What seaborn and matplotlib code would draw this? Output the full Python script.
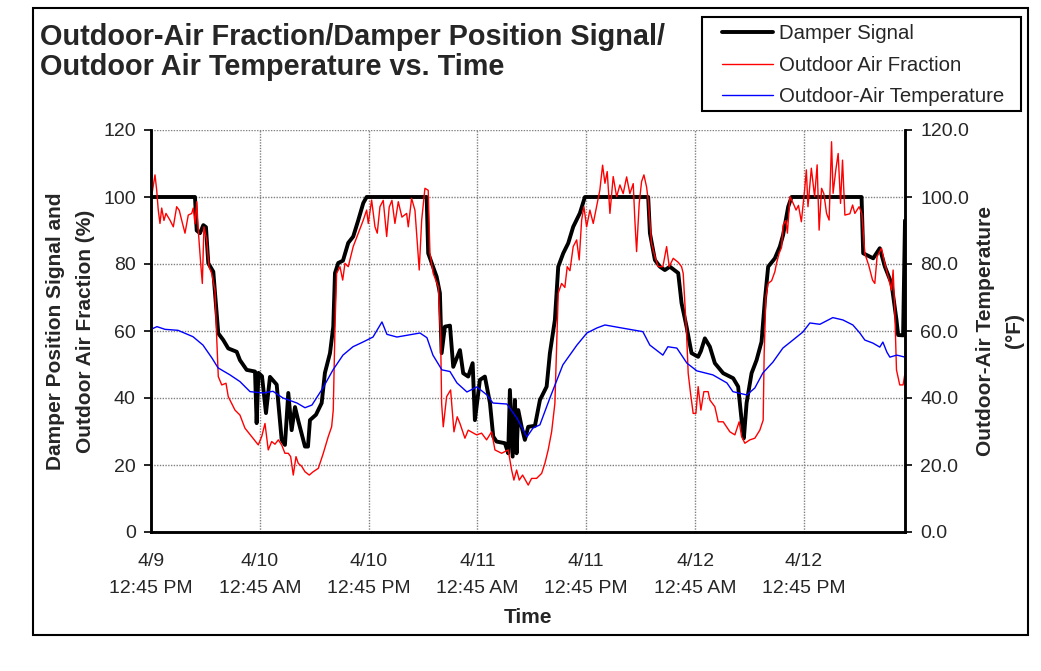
import matplotlib
matplotlib.use("Agg")
import matplotlib.pyplot as plt
from matplotlib.patches import Rectangle
import seaborn as sns

# ---- data (hours elapsed since 4/9 12:45 PM) ----
damper_hours = [0, 4.85, 5.04, 5.40, 5.77, 6.06, 6.32, 6.87, 7.06, 7.42, 7.97, 8.52, 9.45, 9.81,
                10.55, 11.47, 11.65, 11.85, 12.24, 12.68, 13.12, 13.86, 14.41, 14.77, 15.14, 15.51,
                15.88, 16.26, 16.98, 17.31, 17.53, 18.19, 18.82, 19.18, 19.74, 20.10, 20.29, 20.65,
                21.17, 21.75, 22.30, 22.86, 23.41, 23.78, 30.40, 30.57, 31.50, 31.86, 32.05, 32.41,
                32.97, 33.33, 34.07, 34.43, 34.98, 35.47, 35.72, 36.27, 36.82, 37.38, 37.74, 38.11,
                39.03, 39.39, 39.58, 39.88, 40.13, 40.32, 40.50, 40.87, 41.23, 41.60, 42.34, 42.89,
                43.63, 43.99, 44.54, 44.91, 45.46, 46.01, 46.56, 47.30, 47.85, 54.83, 55.02, 55.57,
                56.12, 56.67, 57.22, 58.14, 58.51, 59.06, 59.61, 60.34, 60.64, 61.08, 61.63, 62.18,
                63.10, 64.20, 64.75, 65.13, 65.38, 65.68, 66.23, 66.78, 67.33, 67.70, 68.06, 68.80,
                69.35, 69.71, 70.27, 70.64, 78.36, 78.54, 79.64, 80.37, 80.93, 81.66, 82.21, 82.39,
                82.94, 83.15]
damper_signal = [100, 100, 90, 89.2, 91.6, 91, 80.2, 77.7, 71.3, 59.3, 57.3, 54.8, 53.8, 51.3,
                 48.4, 47.9, 32.5, 47.5, 46.5, 35.5, 46.3, 44, 27.5, 26, 41.5, 30.4,
                 37.3, 33, 25.5, 25.5, 33.4, 35, 38.5, 47.5, 53.4, 61.3, 77.3, 80.3,
                 81, 86.3, 88.2, 93.1, 98.2, 100, 100, 83.2, 76.2, 71.3, 53.4, 61.3,
                 61.6, 49.3, 54.3, 47.4, 46.4, 50.4, 33.4, 45.4, 46.4, 38.5, 28.5, 27,
                 26.5, 23.5, 42.4, 22.5, 39.4, 23.5, 36.4, 31.4, 27.5, 31.4, 31.7, 39.4,
                 43.4, 53.4, 63.3, 79.2, 83.2, 86.2, 91.1, 95.2, 100, 100, 89.2, 81.2,
                 79.2, 78.2, 79.2, 77.3, 68.3, 61.3, 53.4, 52.3, 54, 57.8, 55.3, 50.4,
                 47.4, 45.9, 43.4, 33.4, 28, 38.5, 47.4, 51.3, 56.8, 69.3, 79.2, 81.7,
                 85.2, 88.7, 97.1, 100, 100, 83.2, 81.7, 84.7, 79.2, 74.2, 63.3, 58.8,
                 58.7, 93]

oaf_hours = [0, 0.44, 0.63, 0.80, 0.99, 1.18, 1.43, 1.65, 2.09, 2.46, 2.83, 3.12, 3.38, 3.75, 4.11,
             4.49, 4.66, 4.85, 5.04, 5.21, 5.48, 5.66, 5.84, 6.14, 6.39, 6.69, 7.06, 7.24, 7.42,
             7.80, 8.27, 8.52, 9.26, 9.81, 10.36, 11.10, 11.83, 12.21, 12.57, 12.93, 13.31, 13.67,
             14.04, 14.41, 14.77, 15.14, 15.40, 15.69, 15.99, 16.24, 16.62, 16.98, 17.45, 17.89,
             18.45, 19.00, 19.55, 19.92, 20.10, 20.29, 20.47, 20.84, 21.14, 21.39, 21.75, 22.30,
             22.86, 23.41, 23.78, 23.96, 24.33, 24.70, 24.95, 25.25, 25.61, 25.99, 26.27, 26.57,
             26.90, 27.27, 27.67, 28.19, 28.37, 28.74, 29.11, 29.58, 29.85, 30.21, 30.57, 30.76,
             31.12, 31.68, 31.94, 32.05, 32.23, 32.60, 33.04, 33.41, 33.77, 34.07, 34.62, 34.98,
             35.91, 36.46, 37.01, 37.56, 37.93, 38.67, 39.39, 39.77, 40.02, 40.32, 40.61, 40.98,
             41.60, 41.97, 42.52, 43.08, 43.44, 43.80, 44.18, 44.54, 44.73, 44.91, 45.28, 45.64,
             45.90, 46.20, 46.56, 46.94, 47.22, 47.49, 47.74, 48.04, 48.40, 48.77, 49.14, 49.50,
             49.80, 50.06, 50.31, 50.61, 50.97, 51.35, 51.71, 52.07, 52.45, 52.81, 53.18, 53.36,
             53.55, 53.84, 54.10, 54.36, 54.65, 54.83, 55.20, 55.57, 55.93, 56.45, 56.86, 57.15,
             57.59, 58.14, 58.51, 58.69, 58.88, 59.06, 59.24, 59.50, 59.79, 60.09, 60.34, 60.64,
             60.97, 61.44, 61.63, 62.18, 62.55, 63.10, 63.84, 64.39, 64.86, 65.13, 65.49, 66.04,
             66.59, 67.14, 67.51, 67.62, 67.81, 68.06, 68.44, 68.80, 68.98, 69.27, 69.54, 69.71,
             70.01, 70.18, 70.47, 70.84, 71.14, 71.40, 71.72, 72.08, 72.27, 72.45, 72.82, 73.18,
             73.46, 73.68, 73.95, 74.20, 74.50, 74.78, 75.05, 75.22, 75.52, 75.78, 76.04, 76.26,
             76.52, 77.07, 77.37, 77.62, 78.09, 78.39, 78.72, 79.19, 79.57, 79.82, 80.07, 80.56,
             80.93, 81.30, 81.66, 81.84, 82.02, 82.21, 82.57, 82.94, 83.15]
oa_fraction = [99.1, 106.6, 102, 96.1, 92.1, 96.7, 93, 95.1, 93.1, 91.1, 97.1, 96, 93.1, 89.2, 94.6,
               95.1, 96.7, 92, 98.6, 90.1, 80.2, 74.2, 91.1, 87.2, 79.2, 77.2, 72, 58.3, 46.4,
               43.9, 44.4, 40.4, 36.4, 34.9, 31, 28.5, 26, 28.5, 32.4, 24.5, 27, 26.2,
               27.5, 26, 23.5, 23.5, 22.5, 17, 22.5, 20.5, 19.6, 18, 17, 18,
               19, 23.5, 28.5, 31.4, 36.4, 61.3, 77.2, 79.2, 75.2, 80.2, 79.2, 85.2,
               89.2, 93.1, 96.1, 92.1, 99.1, 91.1, 89.2, 97.1, 99, 88.2, 97, 99,
               92.1, 98.6, 94, 95.1, 91.1, 99.6, 96, 78.2, 93.1, 102.6, 102, 83.2,
               77.2, 73.2, 58.3, 38.4, 31.4, 40.4, 42.4, 29.9, 34.4, 32.4, 28, 30.4,
               29, 29.5, 27.5, 29.9, 24.5, 23.5, 24.5, 18.5, 15.5, 18.5, 15.5, 17,
               14, 16, 16, 17.5, 20.5, 24.5, 29.9, 38.4, 55.3, 71.3, 74.2, 73,
               79.2, 78, 85.2, 87.2, 81.2, 93.1, 97.1, 91.1, 96.1, 92.1, 97.1, 102.1,
               109.5, 104.1, 107.6, 95.1, 106.1, 100.1, 103.6, 101, 106, 101, 104, 93.1,
               83.7, 98.1, 104.6, 106.6, 103, 99.1, 86.2, 82.2, 79.2, 79.2, 85.2, 79.2,
               81.7, 80.5, 79.2, 77.2, 68.3, 59.3, 47.4, 41.4, 35.4, 35.4, 43.4, 36.4,
               41.9, 41.9, 39.4, 37.4, 32.9, 32.9, 29.9, 29, 32.9, 28.5, 26.5, 27.5,
               28, 30.4, 33.4, 53.3, 70.2, 74.2, 75, 77.7, 80.2, 83.2, 85, 91.6,
               93, 89.2, 100.1, 98, 96.1, 97.5, 92.6, 102.1, 108.1, 97.1, 108.6, 100.1,
               109.6, 90.1, 102.6, 101, 95.1, 93.1, 116.5, 101.1, 108.1, 113, 98.1, 111,
               94.6, 95, 97.6, 95.1, 97.1, 95, 83.2, 79.2, 75.2, 74.2, 82.2, 84.7,
               80, 76.2, 72.2, 78.2, 66.3, 48.4, 43.9, 43.9, 47.4]

temp_hours = [0, 0.66, 1.54, 2.98, 4.63, 5.73, 6.73, 7.39, 8.71, 9.81, 10.92, 12.35, 13.45, 14.55,
              16.10, 16.98, 17.75, 18.96, 20.07, 21.17, 22.27, 23.37, 24.48, 25.47, 26.02, 27.12,
              29.66, 30.43, 31.09, 32.08, 32.97, 33.74, 34.84, 35.94, 37.05, 37.71, 39.25, 40.35,
              41.46, 42.12, 42.89, 43.99, 45.42, 46.97, 48.07, 49.17, 50.06, 51.71, 54.24, 55.01,
              56.45, 57.00, 57.99, 59.10, 60.20, 61.96, 63.51, 64.17, 65.71, 66.59, 67.48, 68.58,
              69.68, 70.79, 71.89, 72.66, 73.76, 75.19, 76.30, 77.40, 78.17, 78.72, 79.60, 80.37,
              80.71, 81.15, 81.48, 82.25, 83.15]
oa_temp = [60.5, 61.3, 60.5, 60.2, 58.3, 55.8, 51.9, 49, 46.9, 44.9, 41.9, 41.5, 42, 40,
           38.5, 37.1, 37.9, 43, 48.4, 52.8, 55.3, 56.7, 58.2, 62.7, 59, 58.2,
           59.4, 58, 52.8, 48.4, 47.9, 44.5, 41.8, 43.3, 40.9, 38.5, 38.2, 34,
           28.4, 31, 32, 40, 49.9, 55.8, 59.4, 60.9, 61.8, 61, 59.8, 55.8,
           52.8, 55.3, 54.9, 50.4, 48.1, 46.9, 44.5, 41.9, 40.9, 43, 47.5, 50.7,
           54.9, 57.3, 59.7, 62.4, 62, 64, 63.3, 61.8, 59.4, 57.3, 56.4, 55.2,
           56.7, 53.7, 52.2, 52.8, 52.2]

tick_hours = [0, 12, 24, 36, 48, 60, 72]
tick_labels = ["4/9\n12:45 PM", "4/10\n12:45 AM", "4/10\n12:45 PM", "4/11\n12:45 AM",
               "4/11\n12:45 PM", "4/12\n12:45 AM", "4/12\n12:45 PM"]
left_ticks = [0, 20, 40, 60, 80, 100, 120]
right_tick_labels = ["0.0", "20.0", "40.0", "60.0", "80.0", "100.0", "120.0"]

# ---- style ----
sns.set_style("white")
plt.rcParams["font.family"] = ["Liberation Sans", "DejaVu Sans"]
FS = 14
LFS = 15

W, H = 1041, 671
fig = plt.figure(figsize=(W / 100, H / 100), dpi=100)
ax = fig.add_axes([151 / W, 1 - 532 / H, (905 - 151) / W, (532 - 130) / H])

sns.lineplot(x=damper_hours, y=damper_signal, ax=ax, color="black", linewidth=2.8,
             estimator=None, sort=False, label="Damper Signal")
sns.lineplot(x=oaf_hours, y=oa_fraction, ax=ax, color="#ff0000", linewidth=1.0,
             estimator=None, sort=False, label="Outdoor Air Fraction")
ax2 = ax.twinx()
sns.lineplot(x=temp_hours, y=oa_temp, ax=ax2, color="#0000ff", linewidth=1.0,
             estimator=None, sort=False, label="Outdoor-Air Temperature")

h1, l1 = ax.get_legend_handles_labels()
h2, l2 = ax2.get_legend_handles_labels()
for a in (ax, ax2):
    if a.get_legend() is not None:
        a.get_legend().remove()

ax.set_xlim(0, 83.15)
ax.set_ylim(0, 120)
ax2.set_ylim(0, 120)
ax.set_xticks(tick_hours)
ax.set_xticklabels(tick_labels, fontsize=FS)
ax.set_yticks(left_ticks)
ax.set_yticklabels([str(v) for v in left_ticks], fontsize=FS)
ax2.set_yticks(left_ticks)
ax2.set_yticklabels(right_tick_labels, fontsize=FS)

ax.grid(True, color="#808080", linestyle=(0, (1, 1)), linewidth=1.0)
ax.set_axisbelow(True)
for a in (ax, ax2):
    a.spines["top"].set_visible(False)
    for s in ("left", "right", "bottom"):
        a.spines[s].set_color("black")
        a.spines[s].set_linewidth(1.8)
ax.tick_params(axis="both", direction="out", length=5, width=1.2, color="black", pad=6)
ax.tick_params(axis="x", pad=10)
ax2.tick_params(axis="y", direction="out", length=5, width=1.2, color="black", pad=6)

ax.set_xlabel("Time", fontsize=LFS, fontweight="bold", labelpad=8)
ax.set_ylabel("Damper Position Signal and\nOutdoor Air Fraction (%)", fontsize=LFS,
              fontweight="bold", labelpad=6)
ax2.set_ylabel("Outdoor-Air Temperature\n(°F)", fontsize=LFS, fontweight="bold",
               labelpad=5, rotation=90)
ax.yaxis.label.set_linespacing(1.7)
ax2.yaxis.label.set_linespacing(1.65)

fig.canvas.draw()
for lbl in ax.get_xticklabels():
    lbl.set_linespacing(1.75)

fig.text(40 / W, 1 - 23 / H, "Outdoor-Air Fraction/Damper Position Signal/\nOutdoor Air Temperature vs. Time",
         fontsize=20.8, fontweight="bold", ha="left", va="top", linespacing=1.08)

leg = fig.legend(h1 + h2, l1 + l2, loc="upper left", bbox_to_anchor=(722 / W, 1 - 24 / H),
                 fontsize=14.7, frameon=False, handlelength=2.5, handletextpad=0.3,
                 labelspacing=0.62, borderpad=0.0, borderaxespad=0)
fig.add_artist(Rectangle((702 / W, 1 - 111 / H), (1021 - 702) / W, (111 - 17) / H,
                         transform=fig.transFigure, fill=False, edgecolor="black", linewidth=1.5))

fig.add_artist(Rectangle((33 / W, 1 - 635 / H), (1028 - 33) / W, (635 - 8) / H,
                         transform=fig.transFigure, fill=False, edgecolor="black", linewidth=1.5))

fig.savefig("out.png", dpi=100)
